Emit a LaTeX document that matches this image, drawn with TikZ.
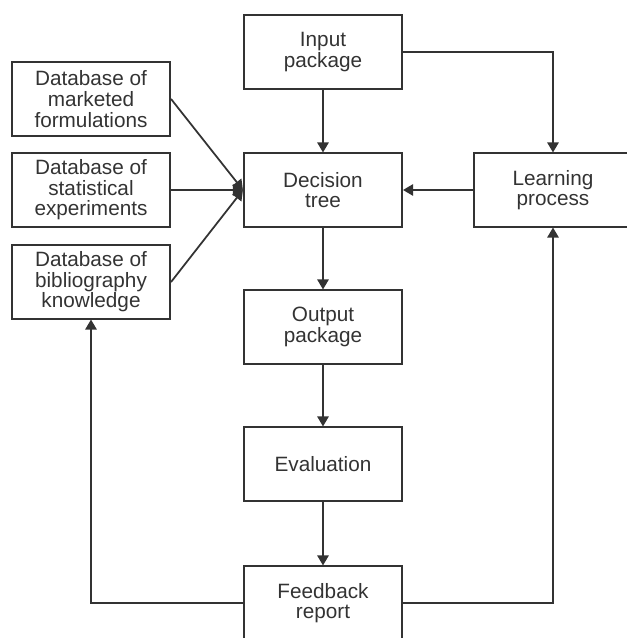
\documentclass[tikz,border=0pt]{standalone}
\usepackage{fontspec}
\setmainfont{Liberation Sans}
\usetikzlibrary{arrows.meta}
\definecolor{inkgray}{HTML}{333333}

\begin{document}
\begin{tikzpicture}[x=0.03cm,y=0.03cm,
    procbox/.style={draw=inkgray,line width=1.5pt,text=inkgray,align=center,
      minimum width=4.75cm,minimum height=2.2cm,inner sep=0pt,
      font=\fontsize{17.7}{17.6}\selectfont},
    flow/.style={draw=inkgray,line width=1.5pt,
      -{Triangle[length=0.3cm,width=0.34cm]}}]
  \useasboundingbox (0,0) rectangle (627,638);

  % Main chain
  \node[procbox] (input) at (323,586) {Input\\package};
  \node[procbox] (tree) at (323,448) {Decision\\tree};
  \node[procbox] (output) at (323,311) {Output\\package};
  \node[procbox] (eval) at (323,174) {Evaluation};
  \node[procbox] (feedback) at (323,35) {Feedback\\report};
  \node[procbox] (learning) at (553,448) {Learning\\process};

  % Databases
  \node[procbox] (dbmarket) at (91,539) {Database of\\marketed\\formulations};
  \node[procbox] (dbstat) at (91,448) {Database of\\statistical\\experiments};
  \node[procbox] (dbbiblio) at (91,356) {Database of\\bibliography\\knowledge};

  \draw[flow] (input) -- (tree);
  \draw[flow] (input) -| (learning);
  \draw[flow] (learning) -- (tree);
  \draw[flow] (tree) -- (output);
  \draw[flow] (output) -- (eval);
  \draw[flow] (eval) -- (feedback);

  \draw[flow] (dbmarket.east) -- (tree.west);
  \draw[flow] (dbstat.east) -- (tree.west);
  \draw[flow] (dbbiblio.east) -- (tree.west);

  % Feedback loops
  \draw[flow] (feedback) -| (dbbiblio);
  \draw[flow] (feedback) -| (learning);
\end{tikzpicture}
\end{document}
